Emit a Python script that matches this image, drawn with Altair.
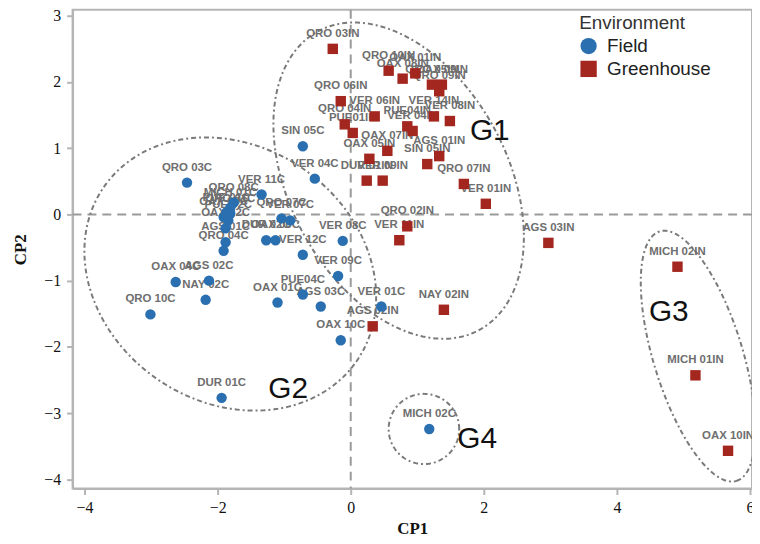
import altair as alt
import numpy as np
import pandas as pd

# ---- Field (blue circles) ----
field_labels = ["QRO 03C", "SIN 05C", "VER 04C", "VER 11C", "QRO 08C", "MICH 01C", "QRO 01C",
                "PUE 01C", "OAX 03C", "PUE 02C", "OAX 02C", "AGS 01C", "QRO 04C", "QRO 07C",
                "VER 07C", "DUR 02C", "OAX 06C", "VER 12C", "VER 08C", "VER 09C", "OAX 04C",
                "AGS 02C", "NAY 02C", "QRO 10C", "PUE04C", "OAX 01C", "AGS 03C", "VER 01C",
                "OAX 10C", "DUR 01C", "MICH 02C"]
field_x = [-2.46, -0.72, -0.54, -1.34, -1.76, -1.81, -1.81, -1.87, -1.91, -1.84, -1.88, -1.88,
           -1.91, -1.04, -0.91, -1.27, -1.13, -0.72, -0.12, -0.19, -2.63, -2.13, -2.18, -3.01,
           -0.72, -1.10, -0.45, 0.46, -0.15, -1.94, 1.18]
field_y = [0.48, 1.03, 0.54, 0.30, 0.18, 0.10, 0.01, 0.03, -0.04, -0.09, -0.21, -0.42, -0.55,
           -0.06, -0.09, -0.39, -0.39, -0.61, -0.40, -0.93, -1.02, -1.00, -1.29, -1.51, -1.21,
           -1.33, -1.39, -1.39, -1.90, -2.77, -3.24]

# ---- Greenhouse (red squares) ----
gh_labels = ["QRO 03IN", "QRO 10IN", "OAX 08IN", "OAX 01IN", "QRO 05IN", "OAX 09IN", "QRO 09IN",
             "QRO 06IN", "VER 06IN", "VER 14IN", "QRO 04IN", "PUE04IN", "VER 08IN", "PUE01IN",
             "VER 04IN", "OAX 07IN", "AGS 01IN", "OAX 05IN", "SIN 05IN", "DUR 01IN", "VER 09IN",
             "QRO 07IN", "VER 01IN", "QRO 02IN", "VER 11IN", "AGS 03IN", "NAY 02IN", "AGS 02IN",
             "MICH 02IN", "MICH 01IN", "OAX 10IN"]
gh_x = [-0.27, 0.57, 0.78, 0.97, 1.22, 1.37, 1.33, -0.15, 0.36, 1.25, -0.09, 0.85, 1.49, 0.03,
        0.93, 0.55, 1.33, 0.28, 1.15, 0.24, 0.48, 1.70, 2.03, 0.85, 0.73, 2.97, 1.40, 0.33,
        4.91, 5.18, 5.67]
gh_y = [2.50, 2.17, 2.05, 2.13, 1.96, 1.96, 1.86, 1.71, 1.48, 1.48, 1.36, 1.33, 1.41, 1.23,
        1.26, 0.96, 0.88, 0.84, 0.76, 0.51, 0.51, 0.46, 0.16, -0.18, -0.39, -0.43, -1.44, -1.69,
        -0.79, -2.43, -3.57]

# ---- group ellipses: name, center, semi-axes, rotation (deg) ----
grp_names = ["G1", "G2", "G3", "G4"]
grp_cx = [0.72, -1.81, 5.22, 1.10]
grp_cy = [0.51, -0.90, -2.14, -3.24]
grp_a = [2.56, 2.31, 1.97, 0.53]
grp_b = [1.64, 1.93, 0.67, 0.53]
grp_ang = [-62, -35, -73, 0]
grp_lx = [2.09, -0.94, 4.78, 1.90]
grp_ly = [1.26, -2.64, -1.47, -3.39]

XDOM = [-4.18, 6.03]
YDOM = [-4.14, 3.09]

pts = pd.DataFrame({
    "label": field_labels + gh_labels,
    "CP1": field_x + gh_x,
    "CP2": field_y + gh_y,
    "Environment": ["Field"] * len(field_labels) + ["Greenhouse"] * len(gh_labels),
})

rows = []
t = np.linspace(0, 2 * np.pi, 240)
for n, cx, cy, a, b, ang in zip(grp_names, grp_cx, grp_cy, grp_a, grp_b, grp_ang):
    th = np.deg2rad(ang)
    ex = cx + a * np.cos(t) * np.cos(th) - b * np.sin(t) * np.sin(th)
    ey = cy + a * np.cos(t) * np.sin(th) + b * np.sin(t) * np.cos(th)
    for i, (u, v) in enumerate(zip(ex, ey)):
        rows.append({"g": n, "i": i, "ex": u, "ey": v})
ell = pd.DataFrame(rows)
glab = pd.DataFrame({"g": grp_names, "gx": grp_lx, "gy": grp_ly})

xs = alt.Scale(domain=XDOM, nice=False, zero=False)
ys = alt.Scale(domain=YDOM, nice=False, zero=False)

xaxis = alt.Axis(values=[-4, -2, 0, 2, 4, 6], grid=False, title="CP1")
yaxis = alt.Axis(values=[-4, -3, -2, -1, 0, 1, 2, 3], grid=False, title="CP2")

zero = pd.DataFrame({"z": [0]})
vline = alt.Chart(zero).mark_rule(color="#9a9a9a", strokeWidth=2, strokeDash=[9, 6]).encode(
    x=alt.X("z:Q", scale=xs, axis=xaxis))
hline = alt.Chart(zero).mark_rule(color="#9a9a9a", strokeWidth=2, strokeDash=[9, 6]).encode(
    y=alt.Y("z:Q", scale=ys, axis=yaxis))

ellipses = alt.Chart(ell).mark_line(color="#7a7a7a", strokeWidth=2, strokeDash=[5, 3, 2, 3],
                                    clip=True).encode(
    x=alt.X("ex:Q", scale=xs, axis=xaxis),
    y=alt.Y("ey:Q", scale=ys, axis=yaxis),
    detail="g:N",
    order="i:Q",
)

gtext = alt.Chart(glab).mark_text(fontSize=30, font="Liberation Sans", color="#111").encode(
    x=alt.X("gx:Q", scale=xs, axis=xaxis),
    y=alt.Y("gy:Q", scale=ys, axis=yaxis),
    text="g:N",
)

labels = alt.Chart(pts).mark_text(dy=-15, fontSize=11.5, font="Liberation Sans",
                                  fontWeight="bold", color="#6e6e6e").encode(
    x=alt.X("CP1:Q", scale=xs, axis=xaxis),
    y=alt.Y("CP2:Q", scale=ys, axis=yaxis),
    text="label:N",
)

leg = alt.Legend(orient="none", legendX=510, legendY=4, title="Environment",
                 symbolSize=270, titleFontSize=19, labelFontSize=19,
                 titleFont="Liberation Sans", labelFont="Liberation Sans",
                 titleFontWeight="normal", titleColor="#333", labelColor="#222",
                 rowPadding=3, titlePadding=4, labelOffset=9, symbolOffset=0)

points = alt.Chart(pts).mark_point(filled=True, opacity=1, size=110).encode(
    x=alt.X("CP1:Q", scale=xs, axis=xaxis),
    y=alt.Y("CP2:Q", scale=ys, axis=yaxis),
    color=alt.Color("Environment:N",
                    scale=alt.Scale(domain=["Field", "Greenhouse"], range=["#2a6fb0", "#a3261f"]),
                    legend=leg),
    shape=alt.Shape("Environment:N",
                    scale=alt.Scale(domain=["Field", "Greenhouse"], range=["circle", "square"]),
                    legend=leg),
)

chart = alt.layer(vline, hline, ellipses, gtext, labels, points).properties(
    width=684, height=482,
    autosize=alt.AutoSizeParams(type="none"),
    padding={"left": 65, "top": 0, "right": 0, "bottom": 52},
).configure_view(
    stroke="#b5b5b5", strokeWidth=2
).configure_axis(
    domainColor="#b5b5b5", domainWidth=2, tickColor="#b5b5b5", tickWidth=2, tickSize=6,
    labelFont="Liberation Serif", labelFontSize=16, labelColor="#111",
    titleFont="Liberation Serif", titleFontSize=17, titleFontWeight="bold", titleColor="#111",
).configure_axisX(titlePadding=5, labelPadding=5).configure_axisY(titlePadding=14, labelPadding=6)

chart.save("out.html", embed_options={"renderer": "svg", "actions": False})
